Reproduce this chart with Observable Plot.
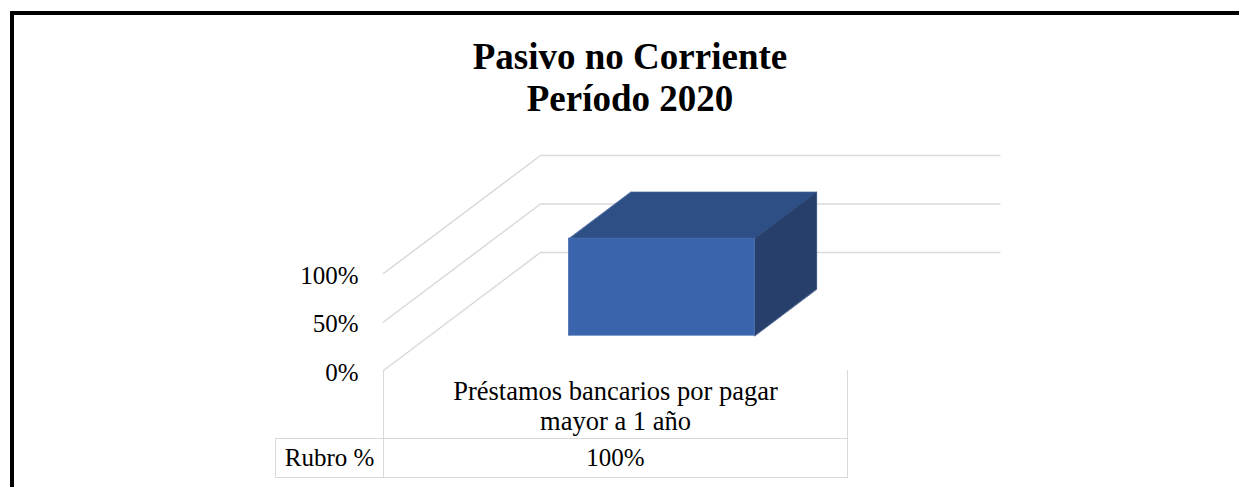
<!DOCTYPE html>
<html><head><meta charset="utf-8">
<script src="https://cdn.jsdelivr.net/npm/d3@7"></script>
<script src="https://cdn.jsdelivr.net/npm/@observablehq/plot@0.6"></script>
<style>
body{margin:0;background:#fff;font-family:"Liberation Serif","Times New Roman",serif;}
#wrap{position:relative;width:1239px;height:487px;overflow:hidden;background:#fff;}
#frame{position:absolute;left:10px;top:11px;width:1240px;height:490px;border-top:4px solid #000;border-left:4px solid #000;}
#title{position:absolute;left:0;width:1260px;top:36px;text-align:center;font-weight:bold;font-size:37px;line-height:42px;color:#000;}
#chart{position:absolute;left:0;top:0;}
#tbl{position:absolute;border-collapse:collapse;table-layout:fixed;font-size:25px;color:#000;}
#tbl td{padding:0;text-align:center;border:1.5px solid #d9d9d9;}
#tbl td.blank{border:none;}
#tbl td.cat{border-top:none;vertical-align:bottom;line-height:30px;padding-bottom:2px;font-size:26.5px;}
#tbl td.val{vertical-align:middle;}
</style></head><body>
<div id="wrap"><div id="frame"></div><div id="chart"></div><div id="title"></div><table id="tbl"></table></div>
<script>
// ---- data ----
const titleLines = ["Pasivo no Corriente", "Período 2020"];
const categories = ["Préstamos bancarios por pagar mayor a 1 año"];
const categoryLines = [["Préstamos bancarios por pagar", "mayor a 1 año"]];
const seriesName = "Rubro %";
const values = [100];
const yTicks = [0, 50, 100];
const yTickLabels = ["0%", "50%", "100%"];

// ---- 3D view parameters (styling) ----
const DX = 157 / 464;      // depth shift in category units
const DY = 118 / 0.97;     // depth shift in percent units
const HALF = 0.2, D0 = 0.295, D1 = 0.69;
const P = (c, v, d) => ({x: c + d * DX, y: v + d * DY});

document.getElementById("title").innerHTML = titleLines.join("<br>");

const n = categories.length;
const grid = yTicks.flatMap(t => [P(-0.5, t, 0), P(-0.5, t, 1), P(n - 0.5 - 0.01, t, 1)].map(p => ({...p, t})));
const fronts = values.map((v, i) => ({x1: i - HALF + D0 * DX, x2: i + HALF + D0 * DX, y1: D0 * DY, y2: v + D0 * DY}));
const tops = values.flatMap((v, i) => [P(i - HALF, v, D0), P(i + HALF, v, D0), P(i + HALF, v, D1), P(i - HALF, v, D1)].map(p => ({...p, k: i})));
const sides = values.flatMap((v, i) => [P(i + HALF, 0, D0), P(i + HALF, v, D0), P(i + HALF, v, D1), P(i + HALF, 0, D1)].map(p => ({...p, k: i})));

const chart = Plot.plot({
  width: 1239, height: 487,
  marginLeft: 383, marginRight: 1239 - 847, marginTop: 273, marginBottom: 487 - 370,
  x: {domain: [-0.5, n - 0.5], axis: null},
  y: {domain: [0, 100], axis: null},
  style: {fontFamily: "Liberation Serif, Times New Roman, serif", background: "transparent", overflow: "visible"},
  marks: [
    Plot.line(grid, {x: "x", y: "y", z: "t", stroke: "#d9d9d9", strokeWidth: 1.5}),
    Plot.text(yTicks, {x: -0.5, y: d => d, text: (d, i) => yTickLabels[i], textAnchor: "end", dx: -25, dy: 2, fontSize: 25, fill: "#000"}),
    Plot.line(tops, {x: "x", y: "y", z: "k", curve: "linear-closed", fill: "#2e4f86", stroke: "#3d5f98", strokeWidth: 0.8}),
    Plot.line(sides, {x: "x", y: "y", z: "k", curve: "linear-closed", fill: "#263f6b", stroke: "#2c4878", strokeWidth: 0.8}),
    Plot.rect(fronts, {x1: "x1", x2: "x2", y1: "y1", y2: "y2", fill: "#3a64ac", stroke: "#4a70b3", strokeWidth: 0.8})
  ]
});
document.getElementById("chart").appendChild(chart);

// ---- data table placed via the chart's scales ----
const xScale = chart.scale("x"), yScale = chart.scale("y");
const tblLeft = xScale.apply(-0.5), tblRight = xScale.apply(n - 0.5), tblTop = yScale.apply(0);
const headW = 108;
const tbl = document.getElementById("tbl");
tbl.style.left = (tblLeft - headW) + "px";
tbl.style.top = tblTop + "px";
const colW = (tblRight - tblLeft) / n;
let html = `<colgroup><col style="width:${headW}px">${categories.map(() => `<col style="width:${colW}px">`).join("")}</colgroup>`;
html += `<tr style="height:68px"><td class="blank"></td>${categoryLines.map(l => `<td class="cat">${l.join("<br>")}</td>`).join("")}</tr>`;
html += `<tr style="height:39px"><td class="val">${seriesName}</td>${values.map(v => `<td class="val">${v}%</td>`).join("")}</tr>`;
tbl.innerHTML = html;
tbl.style.width = (headW + tblRight - tblLeft) + "px";
</script>
</body></html>
